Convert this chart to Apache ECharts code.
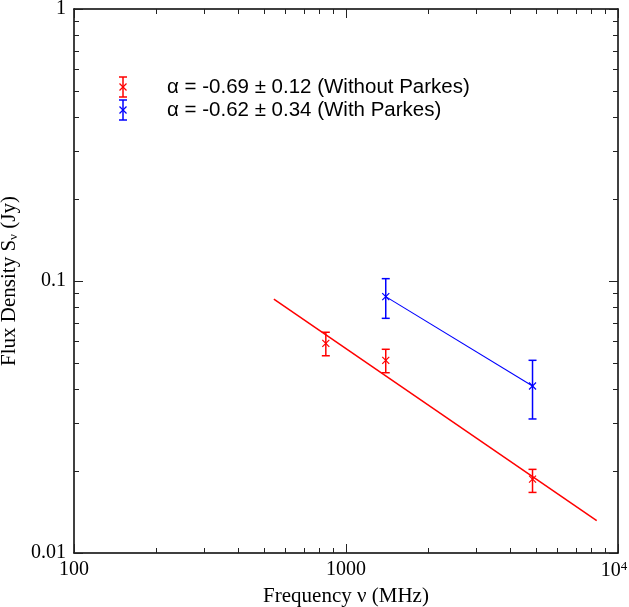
<!DOCTYPE html>
<html>
<head>
<meta charset="utf-8">
<script src="https://cdn.jsdelivr.net/npm/echarts@6/dist/echarts.min.js"></script>
<style>html,body{margin:0;padding:0;background:#fff;}#c{width:629px;height:607px;}</style>
</head>
<body>
<div id="c"></div>
<script>
// ---- data ----
const redFreq = [843, 1400, 4850];
const redFlux = [0.059, 0.0511, 0.0187];
const redErrLo = [0.0531, 0.046, 0.0167];
const redErrHi = [0.0648, 0.0561, 0.0203];
const blueFreq = [1400, 4850];
const blueFlux = [0.0876, 0.0411];
const blueErrLo = [0.0729, 0.0311];
const blueErrHi = [0.102, 0.0511];
const redFitFreq = [543, 8350];
const redFitFlux = [0.0857, 0.01315];
const xMajor = [100, 1000, 10000];
const xMinor = [200,300,400,500,600,700,800,900,2000,3000,4000,5000,6000,7000,8000,9000];
const yMajor = [0.01, 0.1, 1];
const yMinor = [0.02,0.03,0.04,0.05,0.06,0.07,0.08,0.09,0.2,0.3,0.4,0.5,0.6,0.7,0.8,0.9];
const legendLabels = ['α = -0.69 ± 0.12 (Without Parkes)', 'α = -0.62 ± 0.34 (With Parkes)'];
const RED = '#ff0000', BLUE = '#0000ff';

const serif = '"Liberation Serif","Times New Roman",serif';
const sans = '"Liberation Sans",Arial,sans-serif';

function zip(a, b, c, d) { return a.map((v, i) => c ? [v, b[i], c[i], d[i]] : [v, b[i]]); }

function errRender(color) {
  return function (params, api) {
    const x = api.value(0), y = api.value(1), lo = api.value(2), hi = api.value(3);
    const p = api.coord([x, y]), pl = api.coord([x, lo]), ph = api.coord([x, hi]);
    const cw = 4, m = 3.5;
    const st = { stroke: color, lineWidth: 1.5 };
    return { type: 'group', children: [
      { type: 'line', shape: { x1: pl[0], y1: pl[1], x2: ph[0], y2: ph[1] }, style: st },
      { type: 'line', shape: { x1: pl[0]-cw, y1: pl[1], x2: pl[0]+cw, y2: pl[1] }, style: st },
      { type: 'line', shape: { x1: ph[0]-cw, y1: ph[1], x2: ph[0]+cw, y2: ph[1] }, style: st },
      { type: 'line', shape: { x1: p[0]-m, y1: p[1]-m, x2: p[0]+m, y2: p[1]+m }, style: { stroke: color, lineWidth: 1.2 } },
      { type: 'line', shape: { x1: p[0]-m, y1: p[1]+m, x2: p[0]+m, y2: p[1]-m }, style: { stroke: color, lineWidth: 1.2 } }
    ]};
  };
}

function xAx(pos, vals, len, main) {
  return {
    type: 'log', logBase: 10, min: 100, max: 10000, position: pos, gridIndex: 0,
    axisLine: { show: main, onZero: false, lineStyle: { color: '#000', width: 1.5 } },
    axisTick: { show: true, inside: true, length: len, customValues: vals, lineStyle: { color: '#222', width: 1 } },
    axisLabel: main && pos === 'bottom' ? {
      show: true, customValues: xMajor, margin: 7, color: '#000', fontFamily: serif, fontSize: 20,
      formatter: v => v >= 9999 ? '{n|10}{s|4}{p|}' : '{n|' + v + '}',
      rich: { n: { fontFamily: serif, fontSize: 20, color: '#000' },
              s: { fontFamily: serif, fontSize: 13, color: '#000', padding: [0, 0, 9, 0] },
              p: { width: 8 } }
    } : { show: false },
    splitLine: { show: false }, minorTick: { show: false },
    name: main && pos === 'bottom' ? 'Frequency ν (MHz)' : '',
    nameLocation: 'middle', nameGap: 29,
    nameTextStyle: { fontFamily: serif, fontSize: 21, color: '#000' }
  };
}
function yAx(pos, vals, len, main) {
  return {
    type: 'log', logBase: 10, min: 0.01, max: 1, position: pos, gridIndex: 0,
    axisLine: { show: main, onZero: false, lineStyle: { color: '#000', width: 1.5 } },
    axisTick: { show: true, inside: true, length: len, customValues: vals, lineStyle: { color: '#222', width: 1 } },
    axisLabel: main && pos === 'left' ? {
      show: true, customValues: yMajor, margin: 8, color: '#000', fontFamily: serif, fontSize: 20,
      formatter: v => String(+v.toPrecision(3))
    } : { show: false },
    splitLine: { show: false }, minorTick: { show: false },
    name: main && pos === 'left' ? '{a|Flux Density S}{s|ν}{a| (Jy)}' : '',
    nameLocation: 'middle', nameGap: 41, nameRotate: 90,
    nameTextStyle: { fontFamily: serif, fontSize: 21, color: '#000',
      rich: { a: { fontFamily: serif, fontSize: 21, color: '#000' }, s: { fontFamily: serif, fontSize: 13, color: '#000', padding: [9, 0, 0, 0] } } }
  };
}

const chart = echarts.init(document.getElementById('c'), null, { renderer: 'canvas' });
chart.setOption({
  animation: false,
  backgroundColor: '#fff',
  grid: { left: 74, top: 9, width: 544, height: 544, containLabel: false, outerBoundsMode: 'none' },
  xAxis: [
    xAx('bottom', xMajor, 9, true), xAx('bottom', xMinor, 5, false),
    xAx('top', xMajor, 9, true), xAx('top', xMinor, 5, false)
  ],
  yAxis: [
    yAx('left', yMajor, 9, true), yAx('left', yMinor, 5, false),
    yAx('right', yMajor, 9, true), yAx('right', yMinor, 5, false)
  ],
  series: [
    { type: 'line', data: zip(redFitFreq, redFitFlux), symbol: 'none', lineStyle: { color: RED, width: 1.5 }, z: 3 },
    { type: 'line', data: zip(blueFreq, blueFlux), symbol: 'none', lineStyle: { color: BLUE, width: 1.1 }, z: 3 },
    { type: 'custom', data: zip(redFreq, redFlux, redErrLo, redErrHi), renderItem: errRender(RED), z: 4 },
    { type: 'custom', data: zip(blueFreq, blueFlux, blueErrLo, blueErrHi), renderItem: errRender(BLUE), z: 4 }
  ],
  graphic: [0, 1].map(i => {
    const color = i === 0 ? RED : BLUE;
    const cy = i === 0 ? 87 : 110, cx = 123, st = { stroke: color, lineWidth: 1.5 };
    return { type: 'group', children: [
      { type: 'line', shape: { x1: cx, y1: cy-10, x2: cx, y2: cy+10 }, style: st },
      { type: 'line', shape: { x1: cx-4, y1: cy-10, x2: cx+4, y2: cy-10 }, style: st },
      { type: 'line', shape: { x1: cx-4, y1: cy+10, x2: cx+4, y2: cy+10 }, style: st },
      { type: 'line', shape: { x1: cx-3.5, y1: cy-3.5, x2: cx+3.5, y2: cy+3.5 }, style: { stroke: color, lineWidth: 1.2 } },
      { type: 'line', shape: { x1: cx-3.5, y1: cy+3.5, x2: cx+3.5, y2: cy-3.5 }, style: { stroke: color, lineWidth: 1.2 } },
      { type: 'text', x: 167, y: cy, style: { text: legendLabels[i], fill: '#000', font: '20.5px ' + sans, verticalAlign: 'middle', align: 'left' } }
    ]};
  })
});
</script>
</body>
</html>
